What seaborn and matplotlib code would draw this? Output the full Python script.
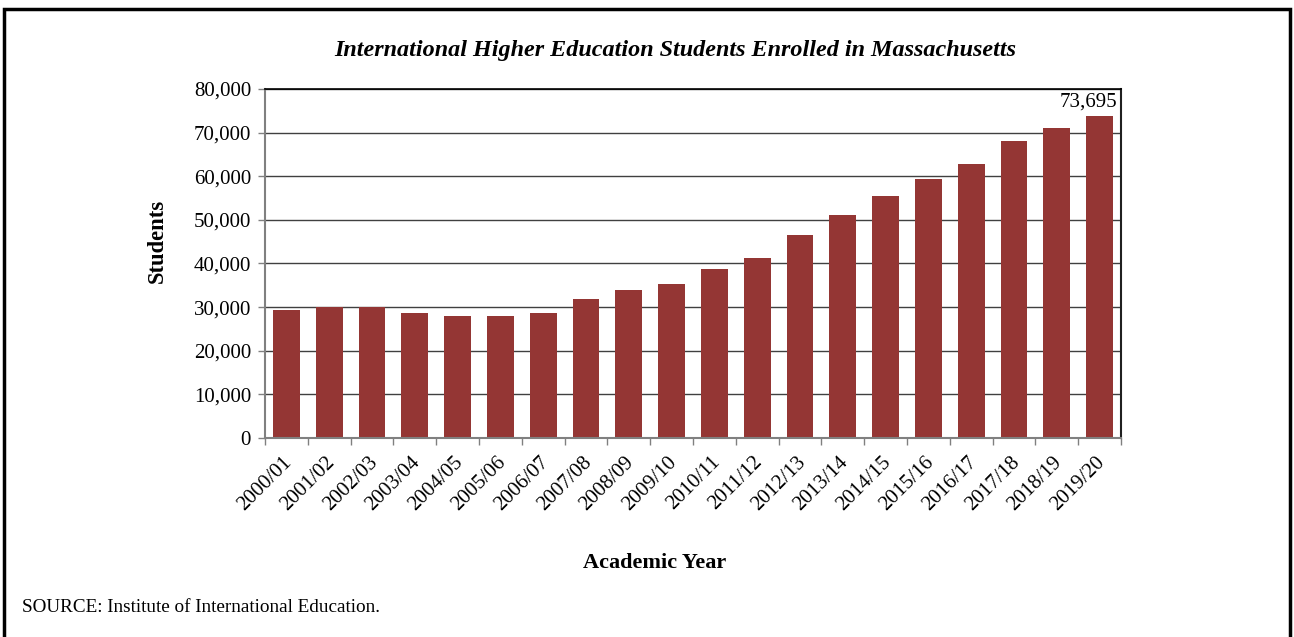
import matplotlib
matplotlib.use("Agg")
import matplotlib.pyplot as plt
import matplotlib.transforms as mtransforms
import seaborn as sns
import pandas as pd
from matplotlib.patches import Rectangle
from matplotlib.ticker import FuncFormatter

# podaci ocitani sa slike
years = ["2000/01", "2001/02", "2002/03", "2003/04", "2004/05", "2005/06", "2006/07",
         "2007/08", "2008/09", "2009/10", "2010/11", "2011/12", "2012/13", "2013/14",
         "2014/15", "2015/16", "2016/17", "2017/18", "2018/19", "2019/20"]
students = [29389, 29950, 29950, 28550, 27940, 27940, 28630, 31760, 33820, 35270,
            38700, 41220, 46490, 51150, 55420, 59390, 62900, 68090, 70990, 73695]
last_label = "73,695"

df = pd.DataFrame({"year": years, "students": students})

sns.set_style("white")
plt.rcParams["font.family"] = ["Liberation Serif", "DejaVu Serif"]
plt.rcParams["text.color"] = "black"
plt.rcParams["axes.labelcolor"] = "black"
plt.rcParams["xtick.color"] = "black"
plt.rcParams["ytick.color"] = "black"

fig = plt.figure(figsize=(12.94, 6.37), dpi=100)
ax = fig.add_axes([0.2048, 0.3124, 0.6615, 0.5479])

sns.barplot(data=df, x="year", y="students", color="#943634", saturation=1,
            width=0.63, linewidth=0, ax=ax)

ax.set_ylim(0, 80000)
ax.set_xlim(-0.5, len(years) - 0.5)
ax.set_yticks(range(0, 80001, 10000))
ax.yaxis.set_major_formatter(FuncFormatter(lambda v, p: f"{int(v):,}"))
ax.grid(axis="y", color="#404040", linewidth=1)
ax.set_axisbelow(True)

for s in ["left", "bottom"]:
    ax.spines[s].set_color("#808080")
    ax.spines[s].set_linewidth(1.5)
ax.spines["top"].set_color("black")
ax.spines["top"].set_linewidth(1.2)
ax.spines["right"].set_color("#202020")
ax.spines["right"].set_linewidth(1.5)

ax.tick_params(axis="y", left=True, length=5, color="#808080", width=1,
               labelsize=15, pad=5)
ax.set_xticks([i - 0.5 for i in range(len(years) + 1)], minor=True)
ax.tick_params(axis="x", which="minor", bottom=True, length=5, color="#808080", width=1)
ax.tick_params(axis="x", which="major", bottom=False, labelsize=15, pad=7)
shift = mtransforms.ScaledTranslation(-0.04, 0, fig.dpi_scale_trans)
for lbl in ax.get_xticklabels():
    lbl.set_rotation(45)
    lbl.set_ha("right")
    lbl.set_rotation_mode("anchor")
    lbl.set_transform(lbl.get_transform() + shift)

ax.text(len(years) - 1 + 0.42, students[-1] + 1100, last_label, ha="right", va="bottom",
        fontsize=15)

ax.set_xlabel("Academic Year", fontsize=16, fontweight="bold", labelpad=28)
ax.set_ylabel("Students", fontsize=16.3, fontweight="bold", labelpad=19)
ax.xaxis.label.set_x(0.4556)
ax.yaxis.label.set_y(0.564)

fig.text(0.5216, 0.92, "International Higher Education Students Enrolled in Massachusetts",
         ha="center", va="center", fontsize=17.4, fontweight="bold", fontstyle="italic")
fig.text(0.017, 0.047, "SOURCE: Institute of International Education.", ha="left",
         va="center", fontsize=13.8)

fig.patches.append(Rectangle((0.003, -0.02), 0.994, 1.006, transform=fig.transFigure,
                             fill=False, edgecolor="black", linewidth=2.5))

fig.savefig("out.png", dpi=100)
